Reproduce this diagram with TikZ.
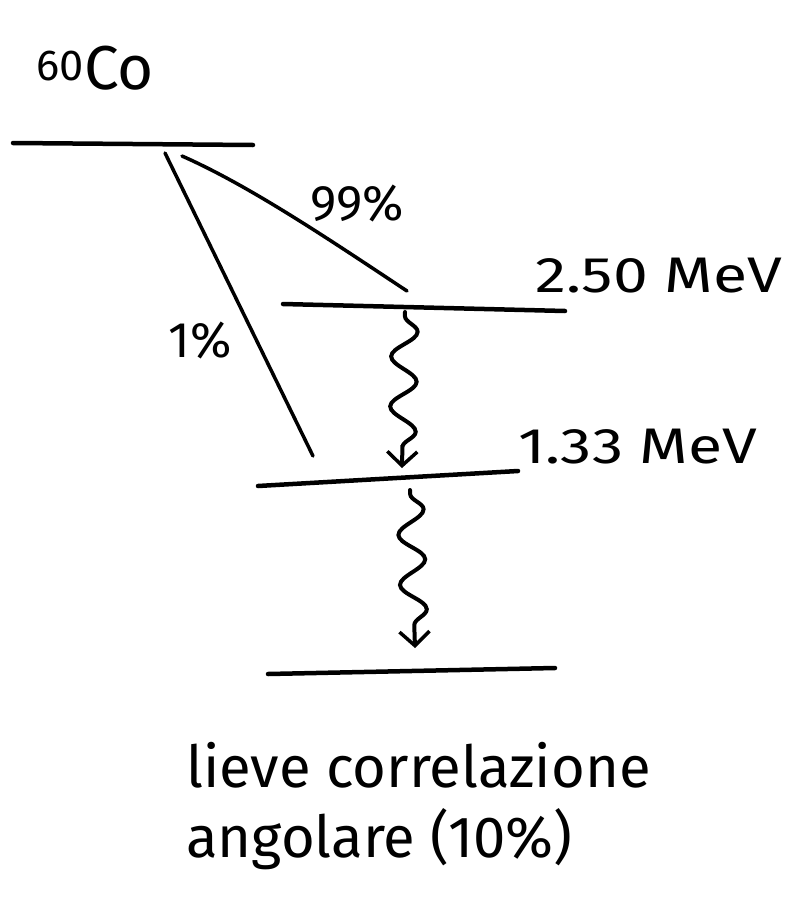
\documentclass[tikz,border=0pt]{standalone}
\usepackage{fontspec}
\setmainfont{Fira Sans}
\usetikzlibrary{decorations.pathmorphing,arrows.meta}
\begin{document}
\begin{tikzpicture}[x=1pt,y=-1pt,
  level/.style={line width=4.5pt,line cap=round},
  decay/.style={line width=3.5pt,line cap=round},
  gammaray/.style={line width=4pt,line cap=round,decorate,
    decoration={snake,amplitude=13pt,segment length=50pt,pre length=4pt,post length=16pt},
    -{Straight Barb[length=14pt,width=30pt,line width=3.5pt]}},
  lab/.style={inner sep=0pt,font=\fontsize{50}{56}\selectfont},
  note/.style={inner sep=0pt,align=left,font=\fontsize{58}{70}\selectfont}]
\useasboundingbox (0,0) rectangle (795,900);
\fill[white] (0,0) rectangle (795,900);
% levels
\coordinate (p0) at (13,143); \coordinate (p1) at (253,145);
\coordinate (a0) at (283,304); \coordinate (a1) at (565,311);
\coordinate (b0) at (258,486); \coordinate (b1) at (518,471);
\coordinate (g0) at (268,674); \coordinate (g1) at (555,668);
\draw[level] (p0) -- (p1);
\draw[level] (a0) -- (a1);
\draw[level] (b0) -- (b1);
\draw[level] (g0) -- (g1);
% labels
\node[inner sep=0pt,anchor=west,font=\fontsize{62}{70}\selectfont] (co) at (36,68) {\textsuperscript{60}Co};
\node[lab,anchor=west] (e1) at (535,276) {\scalebox{1.25}[1]{2.50 MeV}};
\node[lab,anchor=west] (e2) at (518,447) {\scalebox{1.25}[1]{1.33 MeV}};
\node[lab] (l99) at (357,203) {99\%};
\node[lab] (l1) at (200,340) {1\%};
% beta decays
\coordinate (s99) at (182,156); \coordinate (t99) at (407,291);
\coordinate (s1) at (165,153); \coordinate (t1) at (313,456);
\draw[decay] (s99) .. controls (250,186) and (330,240) .. (t99);
\draw[decay] (s1) -- (t1);
% gamma transitions
\coordinate (ga) at (405,312); \coordinate (gb) at (402,468);
\coordinate (gc) at (410,490); \coordinate (gd) at (415,648);
\draw[gammaray] (ga) -- (gb);
\draw[gammaray] (gc) -- (gd);
% note
\node[note,anchor=north west] (txt) at (186,742) {lieve correlazione\\angolare (10\%)};
\end{tikzpicture}
\end{document}
